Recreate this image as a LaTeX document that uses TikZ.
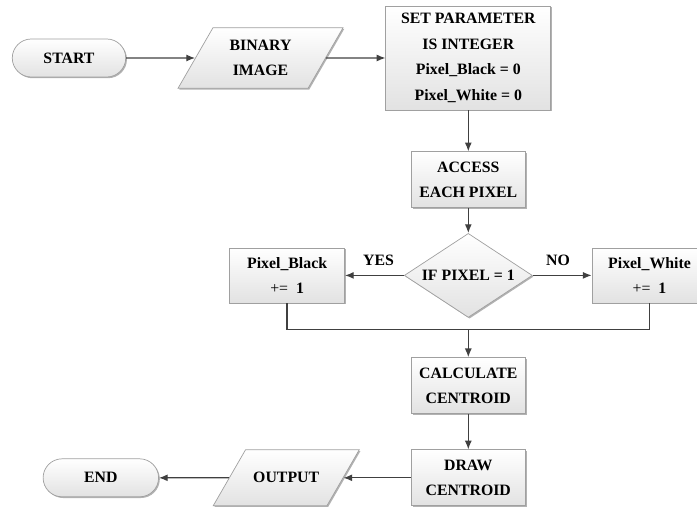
\documentclass[tikz,border=0pt]{standalone}
\usepackage{fontspec}
\setmainfont{Liberation Serif}
\usepackage{tikz}
\usetikzlibrary{positioning,arrows.meta,shapes.geometric,shapes.misc,shadows}
\definecolor{cline}{HTML}{404040}
\definecolor{cedge}{HTML}{A0A0A0}
\definecolor{clight}{HTML}{E2E2E2}
\tikzset{
  basebox/.style={draw=cedge, top color=white, bottom color=clight, align=center,
    font=\fontsize{9}{14.5}\selectfont\bfseries, inner sep=1pt,
    drop shadow={shadow xshift=0.7pt, shadow yshift=-0.7pt, opacity=0.3, fill=black}},
  procbox/.style={basebox, rectangle, minimum width=2.28cm, minimum height=1.12cm},
  termbox/.style={basebox, rounded rectangle, minimum width=2.34cm, minimum height=0.76cm},
  iobox/.style={basebox, trapezium, trapezium left angle=60, trapezium right angle=120,
    trapezium stretches body},
  decbox/.style={basebox, diamond, aspect=1.5, minimum width=2.56cm, minimum height=1.68cm},
  flowarrow/.style={-{Latex[length=5pt,width=4pt]}, line width=0.7pt, color=cline},
  flowline/.style={line width=0.7pt, color=cline},
  lbl/.style={font=\fontsize{9}{11}\selectfont\bfseries, text=black, inner sep=2pt}
}

\begin{document}
\begin{tikzpicture}[node distance=0.8cm and 1.18cm]
    \clip (0,0) rectangle (13.94,-10.14);
    \node[termbox] (start) at (1.38,-1.16) {START};
    \node[iobox, minimum width=3.3cm, inner ysep=6.97pt, right=1.38cm of start] (binary) {BINARY\\IMAGE};
    \node[procbox, minimum width=3.3cm, minimum height=2.08cm, right=1.19cm of binary] (setpar)
      {SET PARAMETER\\IS INTEGER\\Pixel\_Black = 0\\Pixel\_White = 0};
    \node[procbox, below=0.82cm of setpar] (access) {ACCESS\\EACH PIXEL};
    \node[decbox, below=0.5cm of access] (pixtest) {IF PIXEL = 1};
    \node[procbox, minimum width=2.3cm, minimum height=1.1cm, left=of pixtest] (black)
      {Pixel\_Black\\{\mdseries +=}~~1};
    \node[procbox, minimum width=2.3cm, minimum height=1.1cm, right=of pixtest] (white)
      {Pixel\_White\\{\mdseries +=}~~1};
    \node[procbox, below=0.79cm of pixtest] (calc) {CALCULATE\\CENTROID};
    \node[procbox, below=0.71cm of calc] (drawc) {DRAW\\CENTROID};
    \node[iobox, minimum width=2.92cm, inner ysep=12.9pt, left=1.35cm of drawc] (output) {OUTPUT};
    \node[termbox, minimum width=2.38cm, left=1.4cm of output] (finish) {END};
    \coordinate[below=0.23cm of pixtest.south] (join);

    \draw[flowarrow] (start) -- (binary);
    \draw[flowarrow] (binary) -- (setpar);
    \draw[flowarrow] (setpar) -- (access);
    \draw[flowarrow] (access) -- (pixtest);
    \draw[flowarrow] (pixtest) -- node[lbl, above=3pt, pos=0.43] (yes) {YES} (black);
    \draw[flowarrow] (pixtest) -- node[lbl, above=3pt, pos=0.43] (no) {NO} (white);
    \draw[flowline] (black) |- (join) -| (white);
    \draw[flowarrow] (join) -- (calc);
    \draw[flowarrow] (calc) -- (drawc);
    \draw[flowarrow] (drawc) -- (output);
    \draw[flowarrow] (output) -- (finish);
  \end{tikzpicture}
\end{document}
